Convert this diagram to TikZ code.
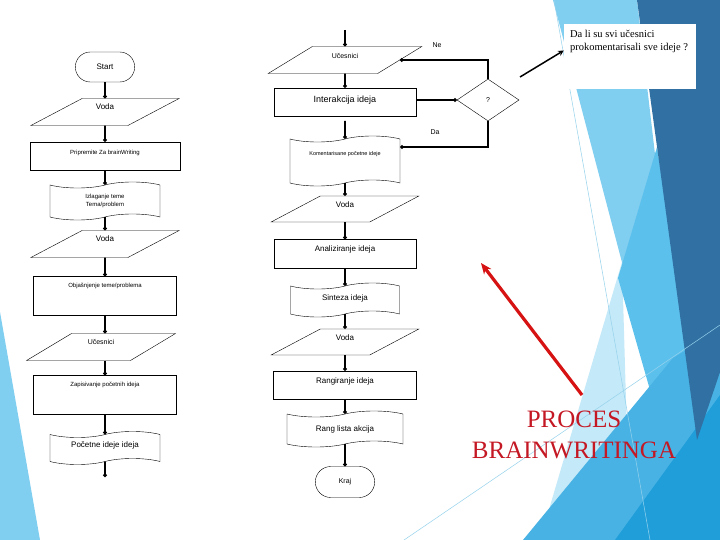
\documentclass[tikz,border=0pt]{standalone}
\usepackage{fontspec}
\setmainfont{Liberation Serif}
\setsansfont{Liberation Sans}
\usetikzlibrary{shapes.geometric,shapes.symbols,shapes.misc,arrows.meta}

\definecolor{facetlight}{RGB}{128,206,240}
\definecolor{facetpale}{RGB}{196,233,248}
\definecolor{facetmid}{RGB}{92,192,236}
\definecolor{facetsea}{RGB}{72,178,228}
\definecolor{facetbright}{RGB}{32,158,218}
\definecolor{facetdark}{RGB}{48,112,162}
\definecolor{facetline}{RGB}{150,210,236}
\definecolor{titlered}{RGB}{196,24,36}
\definecolor{arrowred}{RGB}{214,18,18}

\begin{document}
\begin{tikzpicture}[>=stealth, x=1pt, y=-1pt,
        procbox/.style={draw, fill=white, rectangle, minimum width=143pt, minimum height=28pt, inner sep=1pt},
        iobox/.style={draw, fill=white, trapezium, trapezium left angle=39, trapezium right angle=141,
            trapezium stretches=true, minimum width=149pt, minimum height=27pt, inner sep=1pt},
        docbox/.style={draw, fill=white, tape, tape bend height=6pt, minimum width=110pt, minimum height=36pt, inner sep=1pt},
        termbox/.style={draw, fill=white, rounded rectangle, minimum width=66pt, minimum height=30pt},
        decbox/.style={draw, fill=white, diamond, minimum width=62pt, minimum height=42pt, inner sep=0pt},
        flow/.style={-{Circle[length=3.5pt]}, line width=1.8pt},
        bigtext/.style={font=\sffamily\fontsize{8}{9}\selectfont},
        midtext/.style={font=\sffamily\fontsize{7}{8}\selectfont},
        smalltext/.style={font=\sffamily\fontsize{6}{8}\selectfont},
        lift/.style={text depth=#1}]
    \useasboundingbox (0,0) rectangle (720,540);
    \fill[white] (0,0) rectangle (720,540);

    \fill[facetlight] (0,312) -- (40,540) -- (0,540) -- cycle;
    \fill[facetlight] (553,0) -- (637,0) -- (700,540) -- (695,540) -- cycle;
    \fill[facetpale] (622,262) -- (630,540) -- (540,540) -- cycle;
    \fill[facetmid] (657,147) -- (618,278) -- (650,390) -- (700,420) -- cycle;
    \fill[facetsea] (523,540) -- (673,358) -- (720,330) -- (720,540) -- cycle;
    \fill[facetbright] (615,540) -- (720,395) -- (720,540) -- cycle;
    \fill[facetdark] (637,0) -- (720,0) -- (720,372) -- (697,440) -- cycle;
    \draw[facetline, line width=0.5pt] (554,0) -- (650,540);
    \draw[facetline, line width=0.5pt] (404,540) -- (720,325);

    \node[termbox, bigtext] (start) at (105,67) {Start};
    \node[iobox, bigtext, lift=10.5pt] (voda1) at (105,112) {Voda};
    \node[procbox, smalltext, lift=6.5pt, minimum width=150pt] (prip) at (105,156) {Pripremite Za brainWriting};
    \node[docbox, smalltext, align=center, minimum height=38pt] (izlag) at (105,201) {Izlaganje teme\\Tema/problem};
    \node[iobox, bigtext, lift=10.5pt] (voda2) at (105,244) {Voda};
    \node[procbox, smalltext, lift=21.5pt, minimum height=39pt] (objas) at (105,296) {Objašnjenje teme/problema};
    \node[iobox, midtext, lift=10.5pt] (uces1) at (101,347) {Učesnici};
    \node[procbox, smalltext, lift=21.5pt, minimum height=39pt] (zapis) at (105,395) {Zapisivanje početnih ideja};
    \node[docbox, bigtext, lift=6.5pt, minimum height=33pt] (pocet) at (105,448) {Početne ideje ideja};
    \coordinate (leftend) at (105,477);

    \draw[flow] (start) -- (voda1);
    \draw[flow] (voda1) -- (prip);
    \draw[flow] (prip) -- (izlag);
    \draw[flow] (izlag) -- (voda2);
    \draw[flow] (voda2) -- (objas);
    \draw[flow] (objas) -- (objas |- uces1.north);
    \draw[flow] (zapis |- uces1.south) -- (zapis);
    \draw[flow] (zapis) -- (pocet);
    \draw[flow] (pocet) -- (leftend);

    \coordinate (midtop) at (345,30);
    \node[iobox, midtext, lift=8.5pt, minimum width=154pt] (ucesn2) at (345,60) {Učesnici};
    \node[procbox, bigtext, lift=6.5pt, minimum width=142pt, font=\sffamily\fontsize{9}{10}\selectfont] (inter) at (345,102) {Interakcija ideja};
    \coordinate (gapstart) at (345,121);
    \node[docbox, lift=14.5pt, minimum height=50pt, font=\sffamily\fontsize{5.5}{7}\selectfont] (koment) at (345,161) {Komentarisane početne ideje};
    \node[iobox, bigtext, lift=8.5pt, minimum width=148pt, minimum height=26pt] (voda3) at (345,209) {Voda};
    \node[procbox, bigtext, lift=10.5pt, minimum width=142pt, minimum height=29pt] (analiz) at (345,254) {Analiziranje ideja};
    \node[docbox, bigtext, lift=4.5pt, minimum width=109pt, minimum height=34pt] (sintez) at (345,300) {Sinteza ideja};
    \node[iobox, bigtext, lift=8.5pt, minimum width=148pt, minimum height=26pt] (voda4) at (345,342) {Voda};
    \node[procbox, bigtext, lift=8.5pt] (rang) at (345,385) {Rangiranje ideja};
    \node[docbox, bigtext, minimum width=116pt] (ranglist) at (345,429) {Rang lista akcija};
    \node[termbox, midtext, minimum height=31pt] (kraj) at (345,482) {Kraj};

    \draw[flow] (midtop) -- (ucesn2);
    \draw[flow] (ucesn2) -- (inter);
    \draw[flow] (gapstart) -- (koment);
    \draw[flow] (koment) -- (voda3);
    \draw[flow] (voda3) -- (analiz);
    \draw[flow] (analiz) -- (sintez);
    \draw[flow] (sintez) -- (voda4);
    \draw[flow] (voda4) -- (rang);
    \draw[flow] (rang) -- (ranglist);
    \draw[flow] (ranglist) -- (kraj);

    \node[decbox, midtext] (dec) at (488,100) {?};
    \draw[flow] (inter.east |- dec.west) -- (dec.west);
    \draw[flow] (dec.north) |- (ucesn2.east);
    \draw[flow] (dec.south) |- ([yshift=14pt]koment.east);
    \node[midtext] (ne) at (437,45) {Ne};
    \node[midtext] (da) at (435,132) {Da};

    \node[fill=white, minimum width=132pt, minimum height=65pt] (note) at (630,56.5) {};
    \node[anchor=north west, align=left, inner sep=2pt, font=\fontsize{10.5}{13}\selectfont] (notetext)
        at ([xshift=4pt, yshift=-4pt]note.north west) {Da li su svi učesnici\\prokomentarisali sve ideje ?};
    \coordinate (notefoot) at (520,77);
    \draw[->, line width=1.5pt] (notefoot) -- ([yshift=6pt]note.west);

    \node[text=titlered, align=center, font=\fontsize{25}{31}\selectfont] (title) at (574,435) {PROCES\\BRAINWRITINGA};
    \coordinate (redtail) at (582,395);
    \coordinate (redhead) at (481,263);
    \draw[arrowred, line width=3.2pt, -{Stealth[length=11pt, width=9pt]}] (redtail) -- (redhead);
\end{tikzpicture}
\end{document}
